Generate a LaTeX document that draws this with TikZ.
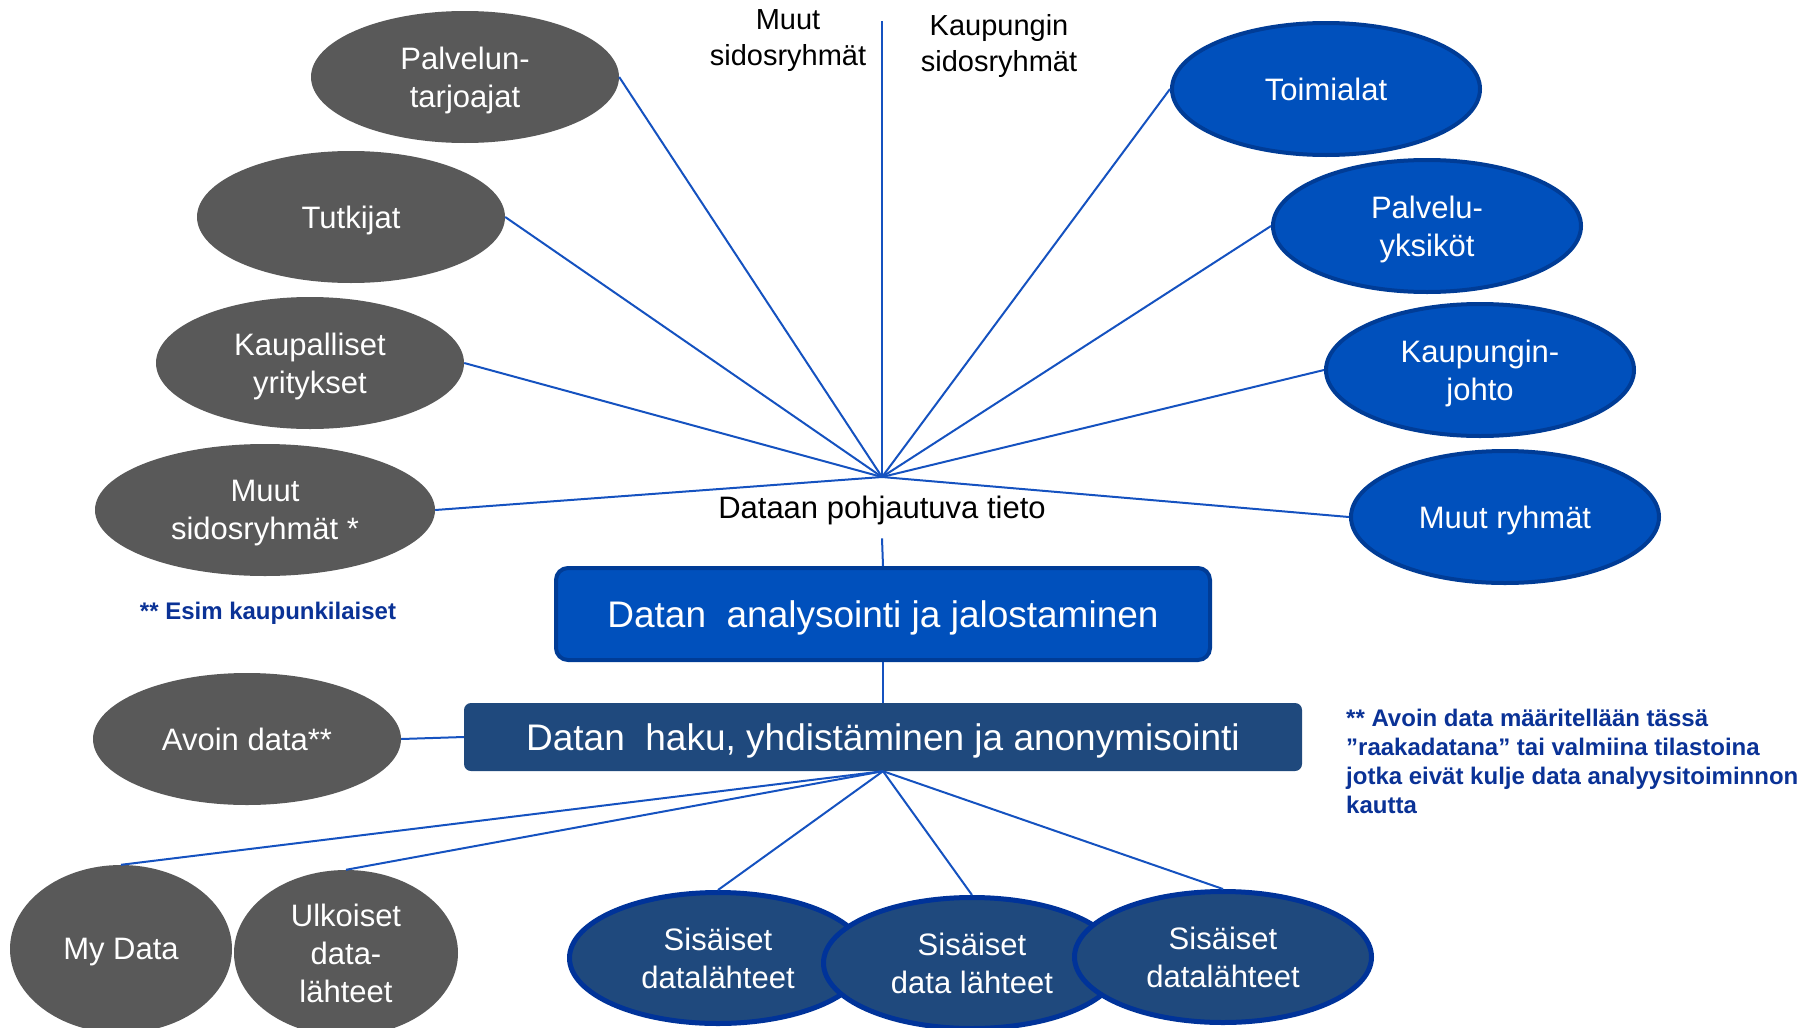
\documentclass[tikz,border=0pt]{standalone}
\usepackage{fontspec}
\setmainfont{Liberation Sans}
\usetikzlibrary{calc,shapes.geometric}
\definecolor{grayfill}{HTML}{595959}
\definecolor{cityblue}{HTML}{0050BC}
\definecolor{cityedge}{HTML}{003C96}
\definecolor{navyfill}{HTML}{1F497D}
\definecolor{navyedge}{HTML}{003399}
\definecolor{linkblue}{HTML}{1552C0}
\definecolor{notetext}{HTML}{0A3296}

\begin{document}
\begin{tikzpicture}[x=1pt, y=-1pt,
                        other/.style  ={ellipse  ,fill=grayfill, text=white, minimum width=308pt, minimum height=132pt, inner sep=0, text depth=0pt, align=center, font=\fontsize{31}{38}\selectfont},
                        city/.style   ={ellipse  ,fill=cityblue, draw=cityedge, line width=4pt, text=white, minimum width=308pt, minimum height=132pt, inner sep=0, text depth=0pt, align=center, font=\fontsize{31}{38}\selectfont},
                        source/.style ={ellipse  ,fill=navyfill, draw=navyedge, line width=5pt, text=white, minimum width=297pt, minimum height=131pt, inner sep=0, text depth=0pt, align=center, font=\fontsize{31}{38}\selectfont},
                        phase/.style  ={rectangle,rounded corners=12pt, text=white, inner sep=0, text depth=0pt, font=\fontsize{37}{44}\selectfont},
                        link/.style   ={-        ,draw, color=linkblue, line width=2pt},
                        label/.style  ={rectangle,align=center, inner sep=0, text depth=0pt, font=\fontsize{29}{36}\selectfont},
                        note/.style   ={rectangle,align=left, inner sep=0, text depth=0pt, text=notetext, font=\bfseries\fontsize{24}{29}\selectfont}]

      \clip (0, 0) rectangle (1808, 1028);
      \coordinate (top) at(882, 21);
      \coordinate (hub) at(882, 477);
      \node[label] at(788, 38)                  (muutlbl) {Muut\\sidosryhmät};
      \node[label] at(999, 43)                  (kaulbl)  {Kaupungin\\sidosryhmät};
      \node[other] at(465, 77)                  (palv)    {Palvelun-\\tarjoajat};
      \node[other] at($(palv) +(-114, 140)$)    (tutk)    {Tutkijat};
      \node[other] at($(tutk) +(-41, 146)$)     (kaup)    {Kaupalliset\\yritykset};
      \node[other, minimum width=340pt] at($(kaup)+(-45, 147)$) (muut) {Muut\\sidosryhmät *};
      \node[city]  at(1326, 89)                 (toim)    {Toimialat};
      \node[city]  at($(toim) +(101, 137)$)     (yks)     {Palvelu-\\yksiköt};
      \node[city]  at($(yks)  +(53, 144)$)      (johto)   {Kaupungin-\\johto};
      \node[city]  at($(johto)+(25, 147)$)      (ryhm)    {Muut ryhmät};
      \node[label, font=\fontsize{31}{38}\selectfont, inner ysep=20pt] at(882, 507) (tieto) {Dataan pohjautuva tieto};
      \node[phase, fill=cityblue, draw=cityedge, line width=4pt, minimum width=654pt, minimum height=92pt] at(883, 614) (anal) {Datan\ \ analysointi ja jalostaminen};
      \node[phase, fill=navyfill, rounded corners=7pt, minimum width=838pt, minimum height=68pt] at($(anal)+(0, 123)$) (haku) {Datan\ \ haku, yhdistäminen ja anonymisointi};
      \node[other] at(247, 739)                 (avoin)   {Avoin data**};
      \node[note]  at(268, 611)                 (esim)    {** Esim kaupunkilaiset};
      \node[note, anchor=west] at(1346, 761)    (avnote)  {** Avoin data määritellään tässä\\”raakadatana” tai valmiina tilastoina\\jotka eivät kulje data analyysitoiminnon\\kautta};
      \node[other, minimum width=222pt, minimum height=168pt] at(121, 949)     (mydata) {My Data};
      \node[other, minimum width=224pt, minimum height=166pt] at($(mydata)+(225, 4)$) (ulk) {Ulkoiset\\data-\\lähteet};
      \node[source] at(718, 958)                (sisa)    {Sisäiset\\datalähteet};
      \node[source] at($(sisa)+(254, 5)$)       (sisb)    {Sisäiset\\data lähteet};
      \node[source] at($(sisb)+(251, -6)$)      (sisc)    {Sisäiset\\datalähteet};
      \path[link] (top)        -- (hub);
      \path[link] (palv.east)  -- (hub);
      \path[link] (tutk.east)  -- (hub);
      \path[link] (kaup.east)  -- (hub);
      \path[link] (muut.east)  -- (hub);
      \path[link] (toim.west)  -- (hub);
      \path[link] (yks.west)   -- (hub);
      \path[link] (johto.west) -- (hub);
      \path[link] (ryhm.west)  -- (hub);
      \path[link] (tieto.south) -- (anal.north);
      \path[link] (anal.south) -- (haku.north);
      \path[link] (avoin.east) -- (haku.west);
      \path[link] (haku.south) -- (mydata.north);
      \path[link] (haku.south) -- (ulk.north);
      \path[link] (haku.south) -- (sisa.north);
      \path[link] (haku.south) -- (sisb.north);
      \path[link] (haku.south) -- (sisc.north);
    \end{tikzpicture}
\end{document}
